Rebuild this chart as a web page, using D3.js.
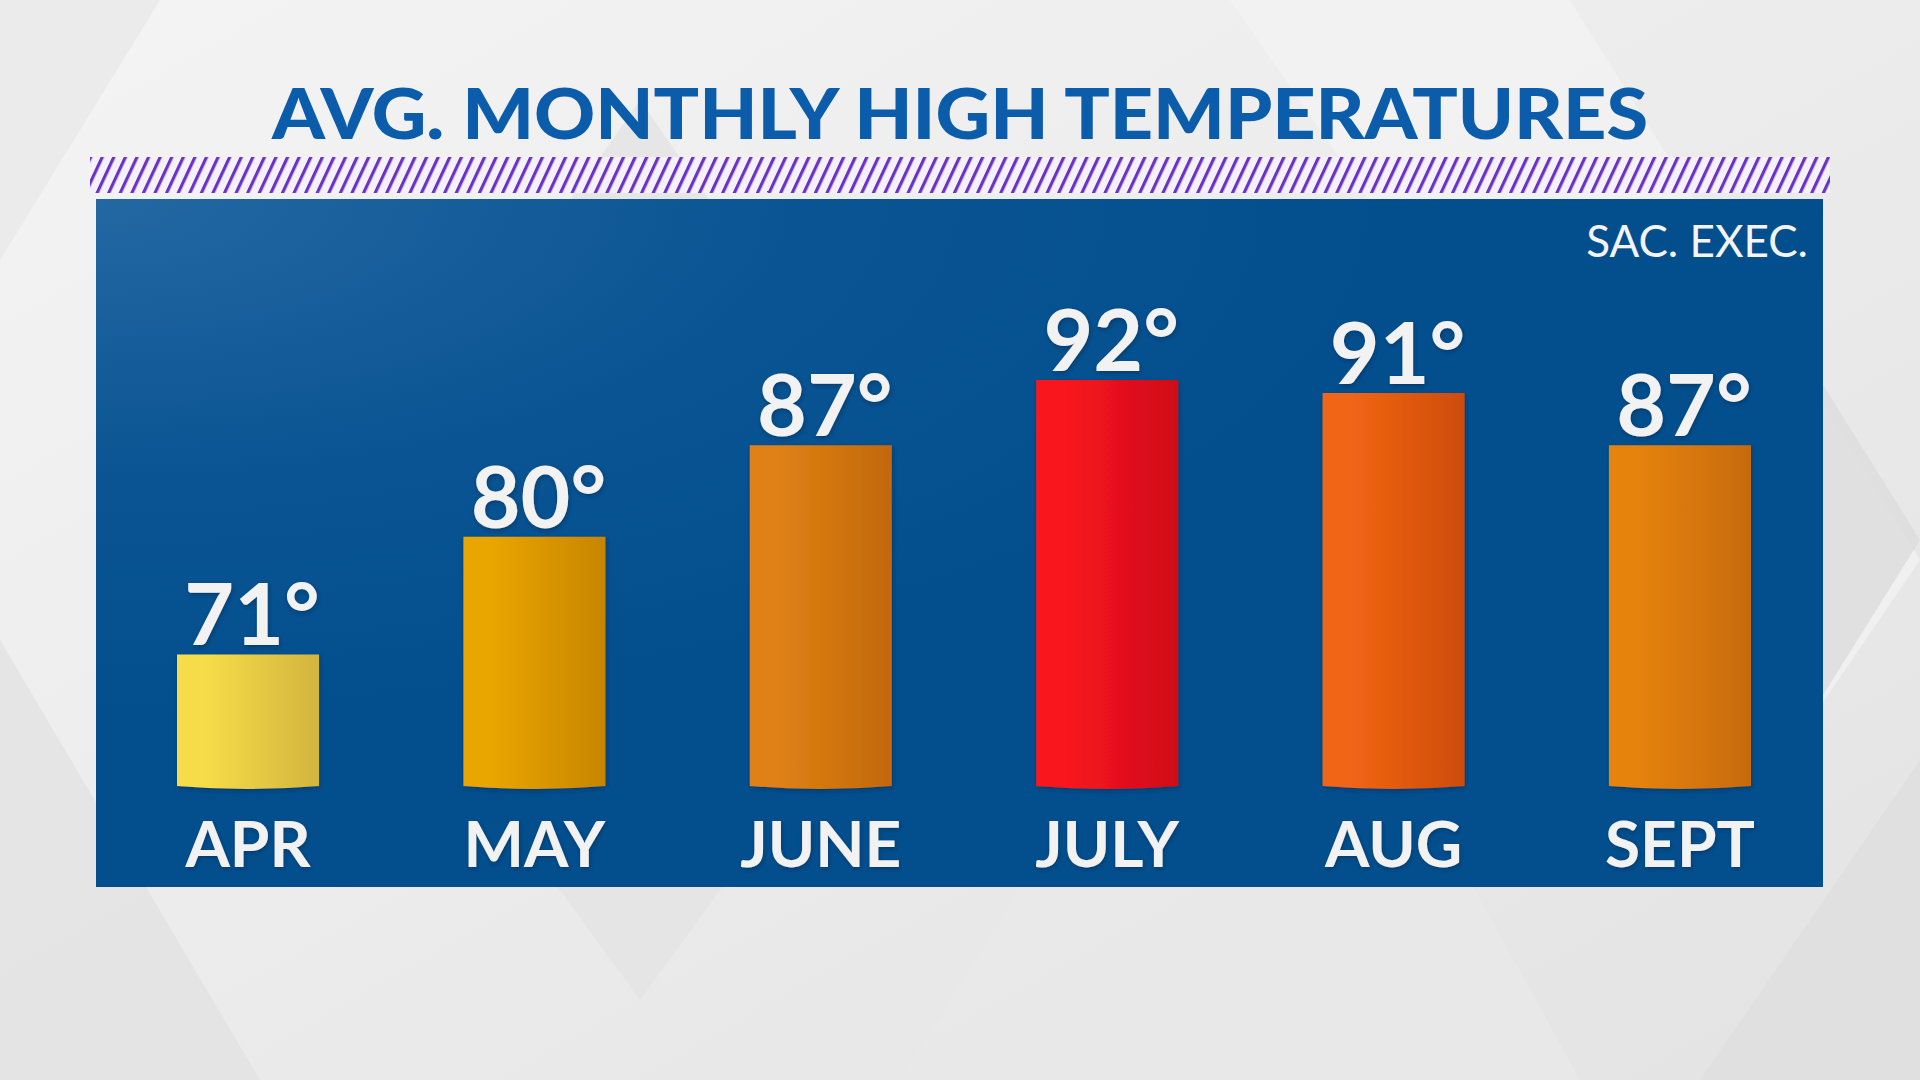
<!DOCTYPE html>
<html>
<head>
<meta charset="utf-8">
<script src="https://cdn.jsdelivr.net/npm/d3@7"></script>
<style>
  html, body { margin: 0; padding: 0; background: #ececec; }
  svg { display: block; }
</style>
</head>
<body>
<div id="chart"></div>
<script>
// chart data
const months = ['APR', 'MAY', 'JUNE', 'JULY', 'AUG', 'SEPT'];
const highs = [71, 80, 87, 92, 91, 87];
const barLight = ['#f6dc48', '#e9a506', '#df8114', '#f9151f', '#f16513', '#e6830e'];
const barDark = ['#d3b43e', '#c78500', '#c2680a', '#cf0c18', '#cd4c0b', '#c66a07'];
const titleText = 'AVG. MONTHLY HIGH TEMPERATURES';
const sourceText = 'SAC. EXEC.';

const width = 1920;
const height = 1080;
const panel = { x: 96, y: 199, w: 1727, h: 688 };
const baseY = 789;

const svg = d3.select('#chart').append('svg')
  .attr('width', width)
  .attr('height', height);

const defs = svg.append('defs');

// background
const bgGrad = defs.append('linearGradient')
  .attr('id', 'bg').attr('x1', '0%').attr('y1', '0%').attr('x2', '100%').attr('y2', '100%');
bgGrad.append('stop').attr('offset', '0%').attr('stop-color', '#f4f4f4');
bgGrad.append('stop').attr('offset', '100%').attr('stop-color', '#e3e3e3');
svg.append('rect').attr('width', width).attr('height', height).attr('fill', 'url(#bg)');

// faint diamond shapes behind everything
const shapes = [
  { pts: [[0, 0], [160, 0], [0, 260]], fill: '#e9e9e9' },
  { pts: [[640, 100], [960, 560], [640, 1000], [320, 560]], fill: '#e4e4e4' },
  { pts: [[1230, 0], [1570, 0], [1920, 560], [1770, 780]], fill: '#f3f3f3' },
  { pts: [[0, 640], [260, 1080], [0, 1080]], fill: '#e2e2e2' },
  { pts: [[900, 1080], [1260, 500], [1580, 1080]], fill: '#e8e8e8' },
  { pts: [[1820, 380], [1920, 540], [1820, 700]], fill: '#dcdcdc' },
  { pts: [[1700, 1080], [1920, 760], [1920, 1080]], fill: '#dedede' }
];
svg.append('g').selectAll('polygon')
  .data(shapes)
  .enter().append('polygon')
  .attr('points', d => d.pts.map(p => p.join(',')).join(' '))
  .attr('fill', d => d.fill)
  .attr('opacity', 0.8);

// title
svg.append('text')
  .attr('x', 960)
  .attr('y', 139)
  .attr('text-anchor', 'middle')
  .attr('textLength', 1376)
  .attr('lengthAdjust', 'spacingAndGlyphs')
  .style('font-family', 'Lato, "Open Sans", sans-serif')
  .style('font-weight', 900)
  .style('font-size', '71px')
  .style('fill', '#0b5dac')
  .text(titleText);

// hatched band
const hatch = defs.append('pattern')
  .attr('id', 'hatch')
  .attr('patternUnits', 'userSpaceOnUse')
  .attr('width', 10.5)
  .attr('height', 10.5)
  .attr('patternTransform', 'rotate(25)');
hatch.append('rect').attr('width', 10.5).attr('height', 10.5).attr('fill', '#f4f2f8');
hatch.append('rect').attr('x', 0).attr('width', 3.2).attr('height', 10.5).attr('fill', '#6b33c4');

svg.append('rect')
  .attr('x', 90).attr('y', 157)
  .attr('width', 1740).attr('height', 36)
  .attr('fill', 'url(#hatch)');

// blue panel
const panelGrad = defs.append('radialGradient')
  .attr('id', 'panelGrad')
  .attr('cx', '0%').attr('cy', '0%').attr('r', '75%');
panelGrad.append('stop').attr('offset', '0%').attr('stop-color', '#2368a3');
panelGrad.append('stop').attr('offset', '55%').attr('stop-color', '#0a5493');
panelGrad.append('stop').attr('offset', '100%').attr('stop-color', '#034f8e');

svg.append('rect')
  .attr('x', panel.x).attr('y', panel.y)
  .attr('width', panel.w).attr('height', panel.h)
  .attr('fill', 'url(#panelGrad)');

svg.append('text')
  .attr('x', 1808)
  .attr('y', 257)
  .attr('text-anchor', 'end')
  .style('font-family', 'Lato, "Open Sans", sans-serif')
  .style('font-size', '44px')
  .style('fill', '#f4f4f4')
  .text(sourceText);

// scales
const x = d3.scaleBand()
  .domain(months)
  .range([177, 1751])
  .paddingInner(0.504)
  .paddingOuter(0);

const y = d3.scaleLinear()
  .domain([60.7, 92])
  .range([baseY, 380]);

const data = months.map((m, i) => ({ month: m, value: highs[i], light: barLight[i], dark: barDark[i] }));

// per-bar horizontal gradients
data.forEach((d, i) => {
  const g = defs.append('linearGradient')
    .attr('id', 'bar' + i)
    .attr('x1', '0%').attr('x2', '100%').attr('y1', '0%').attr('y2', '0%');
  g.append('stop').attr('offset', '0%').attr('stop-color', d.light);
  g.append('stop').attr('offset', '20%').attr('stop-color', d.light);
  g.append('stop').attr('offset', '100%').attr('stop-color', d.dark);
});

const shadow = defs.append('filter').attr('id', 'shadow')
  .attr('x', '-20%').attr('y', '-20%').attr('width', '140%').attr('height', '140%');
shadow.append('feDropShadow')
  .attr('dx', 1).attr('dy', 2).attr('stdDeviation', 2)
  .attr('flood-color', '#00203f').attr('flood-opacity', 0.45);

const bars = svg.append('g').selectAll('g.bar')
  .data(data)
  .enter().append('g')
  .attr('class', 'bar');

// bar body with slight cylinder curve at the bottom
bars.append('path')
  .attr('d', (d, i) => {
    const x0 = x(d.month);
    const w = x.bandwidth();
    const top = y(d.value);
    return 'M' + x0 + ',' + top +
      'L' + (x0 + w) + ',' + top +
      'L' + (x0 + w) + ',' + (baseY - 3) +
      'Q' + (x0 + w / 2) + ',' + (baseY + 3) + ' ' + x0 + ',' + (baseY - 3) + 'Z';
  })
  .attr('fill', (d, i) => 'url(#bar' + i + ')')
  .attr('filter', 'url(#shadow)');

// value labels
bars.append('text')
  .attr('x', d => x(d.month) + x.bandwidth() / 2 + 4)
  .attr('y', d => y(d.value) - 9)
  .attr('text-anchor', 'middle')
  .style('font-family', 'Lato, "Open Sans", sans-serif')
  .style('font-weight', 700)
  .style('font-size', '86px')
  .style('fill', '#f2f2f2')
  .attr('filter', 'url(#shadow)')
  .text(d => d.value + '°');

// month labels
bars.append('text')
  .attr('x', d => x(d.month) + x.bandwidth() / 2)
  .attr('y', 867)
  .attr('text-anchor', 'middle')
  .style('font-family', 'Lato, "Open Sans", sans-serif')
  .style('font-weight', 700)
  .style('font-size', '64px')
  .style('fill', '#f2f2f2')
  .attr('filter', 'url(#shadow)')
  .text(d => d.month);
</script>
</body>
</html>
